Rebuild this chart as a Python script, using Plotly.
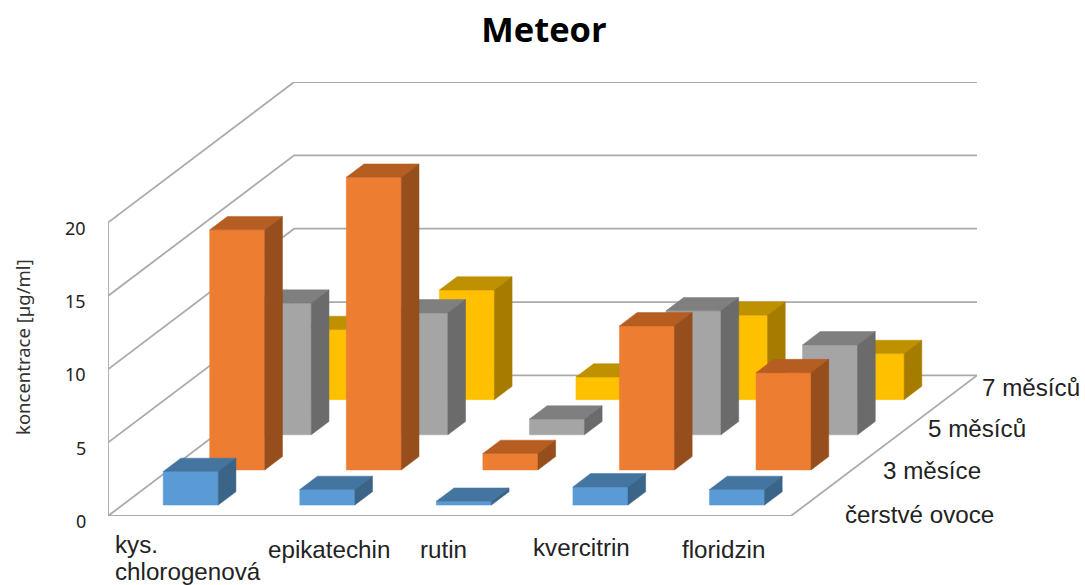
import plotly.graph_objects as go

# Chart content
title = "Meteor"
categories = ["kys.<br>chlorogenová", "epikatechin", "rutin", "kvercitrin", "floridzin"]
series_names = ["čerstvé ovoce", "3 měsíce", "5 měsíců", "7 měsíců"]
y_ticks = [0, 5, 10, 15, 20]
y_title = "koncentrace [µg/ml]"

fresh = [2.29, 1.06, 0.26, 1.24, 1.06]
months_3 = [16.37, 19.95, 1.12, 9.82, 6.63]
months_5 = [8.97, 8.31, 1.07, 8.45, 6.13]
months_7 = [4.78, 7.47, 1.54, 5.76, 3.14]
values = [fresh, months_3, months_5, months_7]

# front, top and side shades per series
shades = [
    ("#5B9BD5", "#4475A0", "#3A6488"),
    ("#ED7D31", "#B65D22", "#964F1C"),
    ("#A5A5A5", "#7F7F7F", "#6B6B6B"),
    ("#FFC000", "#BF9000", "#A67C00"),
]

# Oblique projection: one depth slot shifts a point by these axis amounts
DX = 0.3407
DY = 2.396
BAR_W = 0.403
BAR_D = 0.38
FRONT_GAP = (1 - BAR_D) / 2
GRID = "#ABABAB"

# Plot area on the page, in pixels
WIDTH, HEIGHT = 1085, 585
LEFT, RIGHT, TOP, BOTTOM = 108, 977, 82, 516
X_MAX = len(categories) + len(series_names) * DX
Y_MAX = 20 + len(series_names) * DY


def project(x, y, depth):
    return x + depth * DX, y + depth * DY


fig = go.Figure()


def line(points, color=GRID, width=1.8):
    xs, ys = zip(*points)
    fig.add_trace(go.Scatter(x=xs, y=ys, mode="lines", hoverinfo="skip", cliponaxis=False,
                             line=dict(color=color, width=width)))


def face(points, color):
    xs, ys = zip(*points)
    fig.add_trace(go.Scatter(x=xs + xs[:1], y=ys + ys[:1], mode="lines", fill="toself",
                             fillcolor=color, hoverinfo="skip", cliponaxis=False,
                             line=dict(color=color, width=0.5)))


# Walls and floor
n_depth = len(series_names)
for v in y_ticks:
    line([project(0, v, 0), project(0, v, n_depth), project(len(categories), v, n_depth)])
line([(0, 0), (0, 20)])
line([project(0, 0, 0), project(len(categories), 0, 0), project(len(categories), 0, n_depth)])

# Bars, back row first so nearer rows cover them
for s in reversed(range(n_depth)):
    front_c, top_c, side_c = shades[s]
    for c in range(len(categories)):
        v = values[s][c]
        x0 = c + (1 - BAR_W) / 2
        x1 = x0 + BAR_W
        d0 = s + FRONT_GAP
        d1 = d0 + BAR_D
        face([project(x0, 0, d0), project(x1, 0, d0), project(x1, v, d0), project(x0, v, d0)], front_c)
        face([project(x0, v, d0), project(x1, v, d0), project(x1, v, d1), project(x0, v, d1)], top_c)
        face([project(x1, 0, d0), project(x1, 0, d1), project(x1, v, d1), project(x1, v, d0)], side_c)

annotations = []


# Paper coordinates run over the plot area, so pixel positions need the margins removed
def to_plot_x(px):
    return (px - LEFT) / (RIGHT - LEFT)


def to_plot_y(py):
    return (BOTTOM - py) / (BOTTOM - TOP)


def label(text, px, py, font, **extra):
    annotations.append(dict(x=to_plot_x(px), y=to_plot_y(py), xref="paper", yref="paper", text=text,
                            showarrow=False, yanchor="middle", font=font, borderpad=0,
                            borderwidth=0, **extra))


label_font = dict(family="Liberation Sans", size=24.2, color="#222222")

# Category labels, one annotation per text line for tight leading
category_px = [115, 268, 420, 533, 682]
category_py = [544, 549, 549, 547, 549]
LEADING = 27
for name, px, py in zip(categories, category_px, category_py):
    for i, text_line in enumerate(name.split("<br>")):
        label(text_line, px, py + i * LEADING, label_font, xanchor="left", align="left")

# Depth-axis labels
series_px = [845, 883, 928, 982]
series_py = [514, 470, 428, 387]
for name, px, py in zip(series_names, series_px, series_py):
    label(name, px, py, label_font, xanchor="left")

# Value-axis labels sit slightly below their gridlines
tick_font = dict(family="Noto Sans", size=18, color="#222222")
for v in y_ticks:
    annotations.append(dict(x=to_plot_x(86), y=v, xref="paper", yref="y", text=str(v), showarrow=False,
                            xanchor="right", yanchor="middle", yshift=-5, font=tick_font,
                            borderpad=0, borderwidth=0))

# Value-axis title
label(y_title, 22, 347, dict(family="Noto Sans", size=18.5, color="#333333"),
      textangle=-90, xanchor="center")

fig.update_layout(
    width=WIDTH,
    height=HEIGHT,
    margin=dict(l=LEFT, r=WIDTH - RIGHT, t=TOP, b=HEIGHT - BOTTOM, pad=0, autoexpand=False),
    paper_bgcolor="white",
    plot_bgcolor="white",
    showlegend=False,
    title=dict(text=f"<b>{title}</b>", x=544 / WIDTH, xanchor="center", y=1 - 30 / HEIGHT,
               yanchor="middle", font=dict(family="Open Sans", size=34.5, color="#000000")),
    xaxis=dict(range=[0, X_MAX], visible=False, fixedrange=True),
    yaxis=dict(range=[0, Y_MAX], tickvals=y_ticks, showgrid=False, zeroline=False, showline=False,
               ticks="", showticklabels=False, fixedrange=True),
    annotations=annotations,
)

fig.write_html("out.html", config=dict(displayModeBar=False))
